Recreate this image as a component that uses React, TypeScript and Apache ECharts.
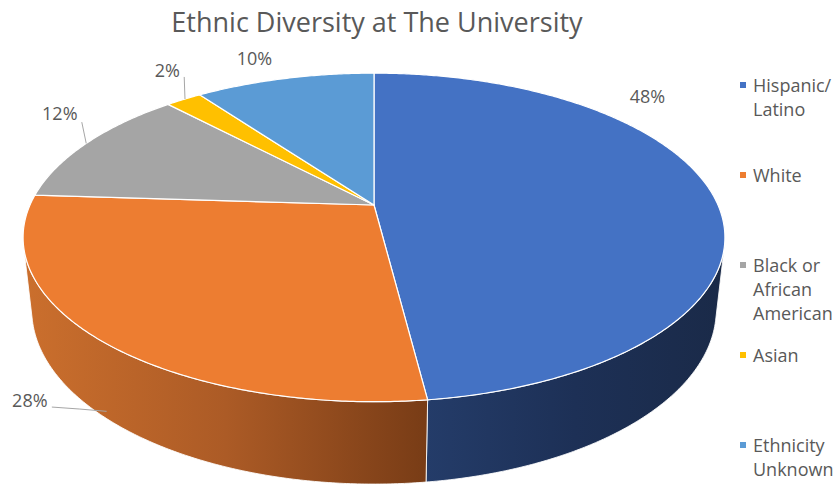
import React, { useEffect, useRef } from 'react';
import * as echarts from 'echarts';

// ---- data ----
const CATEGORIES = ['Hispanic/Latino', 'White', 'Black or African American', 'Asian', 'Ethnicity Unknown'];
const LEGEND_TEXT = ['Hispanic/\nLatino', 'White', 'Black or\nAfrican\nAmerican', 'Asian', 'Ethnicity\nUnknown'];
const VALUES = [48, 28, 12, 2, 10];
const TITLE = 'Ethnic Diversity at The University';

// ---- styles ----
const TOP_COLORS = ['#4472C4', '#ED7D31', '#A5A5A5', '#FFC000', '#5B9BD5'];
const SIDE_COLORS = [
  ['#243C69', '#1D3056', '#1A2A48'],
  ['#CB6F2D', '#AC5B26', '#783C16'],
  ['#7C7C7C', '#6A6A6A', '#555555'],
  ['#BF9000', '#A57C00', '#8A6800'],
  ['#41719C', '#37618A', '#2E5277'],
];
const TEXT_COLOR = '#595959';
const FONT = '"Open Sans", "Noto Sans", sans-serif';

// ---- 3D projection layout ----
const CX = 374;
const CY = 205;
const FOCAL = 1548;
const DIST = 4.5;
const ELEV = (27.32 * Math.PI) / 180;
const THICK = 0.2385;
const SIN_E = Math.sin(ELEV);
const COS_E = Math.cos(ELEV);
const DEG = Math.PI / 180;

// label placement (angle in degrees clockwise from back, radius in pie radii)
const LABEL_POS = [
  { theta: 49, r: 1.22 },
  { theta: 219, r: 1.278 },
  { theta: 302.5, r: 1.2236 },
  { theta: 324.9, r: 1.2578 },
  { theta: 339.5, r: 1.2165 },
];
const LEADERS: any[] = [
  null,
  { dx: 22, dy: 7, knee: [28, 2], theta: 223, r: 1, z: -0.9 },
  { dx: 22, dy: 9, knee: null, theta: 295, r: 1, z: 0 },
  { dx: 17, dy: 7, knee: null, theta: 320.7, r: 1, z: 0 },
  null,
];

function project(theta: number, r: number, z: number): number[] {
  const X = r * Math.sin(theta);
  const Y = -r * Math.cos(theta);
  const depth = DIST - Y * COS_E - z * SIN_E;
  return [CX + (FOCAL * X) / depth, CY + (FOCAL * (Y * SIN_E - z * COS_E)) / depth];
}

function arc(a0: number, a1: number, z: number): number[][] {
  const pts: number[][] = [];
  const n = Math.max(2, Math.ceil(Math.abs(a1 - a0) / (0.5 * DEG)));
  for (let k = 0; k <= n; k++) {
    const t = a0 + ((a1 - a0) * k) / n;
    pts.push(project(t, 1, z));
  }
  return pts;
}

const TOTAL = VALUES.reduce((a, b) => a + b, 0);
const STARTS: number[] = [];
const ENDS: number[] = [];
{
  let acc = 0;
  VALUES.forEach((v) => {
    STARTS.push((acc / TOTAL) * 2 * Math.PI);
    acc += v;
    ENDS.push((acc / TOTAL) * 2 * Math.PI);
  });
}
// visible side range (outer surface faces the camera)
const VIS0 = Math.acos(-1 / (DIST * COS_E));
const VIS1 = 2 * Math.PI - VIS0;

export default function App() {
  const ref = useRef<HTMLDivElement>(null);
  useEffect(() => {
    if (!ref.current) return;
    const chart = echarts.init(ref.current, undefined, { renderer: 'svg' });
    const data = VALUES.map((v, i) => ({ value: [v, i], name: CATEGORIES[i] }));

    const legendEls: any[] = [];
    LEGEND_TEXT.forEach((t, i) => {
      const cy = 85 + 90 * i;
      legendEls.push({
        type: 'rect',
        shape: { x: 740, y: cy - 3, width: 6, height: 6 },
        style: { fill: TOP_COLORS[i] },
      });
      legendEls.push({
        type: 'text',
        style: {
          text: t,
          x: 753,
          y: cy - 12,
          font: `18px ${FONT}`,
          fill: TEXT_COLOR,
          lineHeight: 24,
          verticalAlign: 'top',
          align: 'left',
        },
      });
    });

    chart.setOption({
      animation: false,
      graphic: [
        {
          type: 'text',
          style: {
            text: TITLE,
            x: 377,
            y: 21,
            font: `27px ${FONT}`,
            fill: TEXT_COLOR,
            align: 'center',
            verticalAlign: 'middle',
          },
        },
        ...legendEls,
      ],
      series: [
        {
          type: 'custom',
          name: 'sides',
          coordinateSystem: 'none',
          z: 1,
          silent: true,
          data,
          renderItem: (params: any) => {
            const i = params.dataIndex;
            const s0 = Math.max(STARTS[i], VIS0);
            const s1 = Math.min(ENDS[i], VIS1);
            if (s1 <= s0) return { type: 'group', children: [] };
            const top = arc(s0, s1, 0);
            const bot = arc(s1, s0, -THICK);
            const c = SIDE_COLORS[i];
            return {
              type: 'polygon',
              shape: { points: top.concat(bot) },
              style: {
                fill: new echarts.graphic.LinearGradient(0, 0, 1, 0, [
                  { offset: 0, color: c[0] },
                  { offset: 0.5, color: c[1] },
                  { offset: 1, color: c[2] },
                ]),
                stroke: 'rgba(255,255,255,0.85)',
                lineWidth: 1,
              },
            };
          },
        },
        {
          type: 'custom',
          name: 'tops',
          coordinateSystem: 'none',
          z: 2,
          silent: true,
          data,
          renderItem: (params: any) => {
            const i = params.dataIndex;
            const pts = [project(0, 0, 0)].concat(arc(STARTS[i], ENDS[i], 0));
            return {
              type: 'polygon',
              shape: { points: pts },
              style: {
                fill: TOP_COLORS[i],
                stroke: '#FFFFFF',
                lineWidth: 1.2,
                lineJoin: 'round',
              },
            };
          },
        },
        {
          type: 'custom',
          name: 'labels',
          coordinateSystem: 'none',
          z: 3,
          silent: true,
          data,
          renderItem: (params: any, api: any) => {
            const i = params.dataIndex;
            const v = api.value(0);
            const lp = LABEL_POS[i];
            const p = project(lp.theta * DEG, lp.r, 0);
            const children: any[] = [
              {
                type: 'text',
                style: {
                  text: Math.round((v / TOTAL) * 100) + '%',
                  x: p[0],
                  y: p[1],
                  font: `18px ${FONT}`,
                  fill: TEXT_COLOR,
                  align: 'center',
                  verticalAlign: 'middle',
                },
              },
            ];
            const L = LEADERS[i];
            if (L) {
              const start = [p[0] + L.dx, p[1] + L.dy];
              const pts = [start];
              if (L.knee) pts.push([start[0] + L.knee[0], start[1] + L.knee[1]]);
              pts.push(project(L.theta * DEG, L.r, L.z * THICK));
              children.push({
                type: 'polyline',
                shape: { points: pts },
                style: { stroke: '#A6A6A6', lineWidth: 1, fill: 'none' },
              });
            }
            return { type: 'group', children };
          },
        },
      ],
    });
    return () => chart.dispose();
  }, []);
  return (
    <div
      ref={ref}
      style={{ position: 'fixed', left: 0, top: 0, width: 839, height: 484, background: '#FFFFFF' }}
    />
  );
}
